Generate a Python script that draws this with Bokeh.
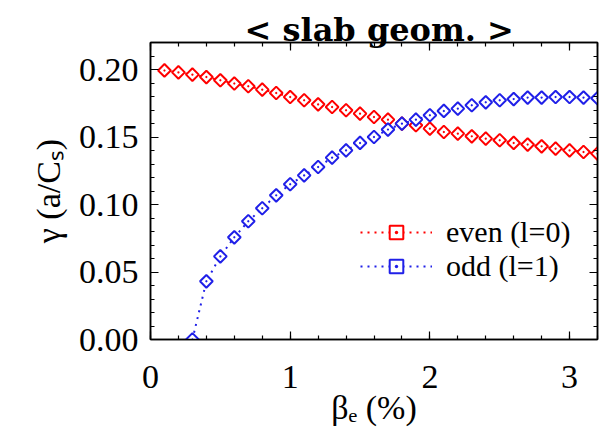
import numpy as np
from bokeh.plotting import figure
from bokeh.models import (LinearAxis, SingleIntervalTicker, NumeralTickFormatter,
                          Range1d, Legend, LegendItem, Title, ColumnDataSource)
from bokeh.embed import file_html
from bokeh.resources import INLINE

# ---- data ----
beta_even = [0.1, 0.2, 0.3, 0.4, 0.5, 0.6, 0.7, 0.8, 0.9, 1.0, 1.1, 1.2, 1.3, 1.4, 1.5, 1.6,
             1.7, 1.8, 1.9, 2.0, 2.1, 2.2, 2.3, 2.4, 2.5, 2.6, 2.7, 2.8, 2.9, 3.0, 3.1, 3.2]
gamma_even = [0.1993, 0.1979, 0.1962, 0.1944, 0.1920, 0.1896, 0.1876, 0.1851, 0.1826, 0.1796,
              0.1772, 0.1742, 0.1722, 0.1698, 0.1673, 0.1648, 0.1629, 0.1599, 0.1587, 0.1562,
              0.1537, 0.1525, 0.1505, 0.1488, 0.1476, 0.1456, 0.1444, 0.1431, 0.1414, 0.1401,
              0.1389, 0.1377]
beta_odd = [0.3, 0.4, 0.5, 0.6, 0.7, 0.8, 0.9, 1.0, 1.1, 1.2, 1.3, 1.4, 1.5, 1.6, 1.7, 1.8,
            1.9, 2.0, 2.1, 2.2, 2.3, 2.4, 2.5, 2.6, 2.7, 2.8, 2.9, 3.0, 3.1, 3.2]
gamma_odd = [0.0, 0.0431, 0.0616, 0.0757, 0.0876, 0.0972, 0.1068, 0.1150, 0.1216, 0.1278,
             0.1347, 0.1401, 0.1456, 0.1500, 0.1555, 0.1599, 0.1629, 0.1661, 0.1693, 0.1710,
             0.1735, 0.1757, 0.1772, 0.1781, 0.1792, 0.1792, 0.1796, 0.1796, 0.1792, 0.1787]
x_range = (0.0, 3.2)
y_range = (0.0, 0.22)
title_text = "< slab geom. >"
x_label = "β\u2091 (%)"
y_label = "γ (a/C\u209b)"
legend_labels = ["even (l=0)", "odd (l=1)"]

RED = "#ff0000"
BLUE = "#2020e8"
SERIF = "Liberation Serif"

p = figure(width=605, height=433, output_backend="svg", toolbar_location=None,
           x_range=Range1d(*x_range), y_range=Range1d(*y_range),
           min_border_left=150, min_border_right=8, min_border_top=42, min_border_bottom=94,
           x_axis_type=None, y_axis_type=None)
p.xgrid.visible = False
p.ygrid.visible = False
p.outline_line_color = "black"
p.outline_line_width = 1.5
p.background_fill_color = "white"
p.border_fill_color = "white"


def style_axis(ax, labels=True):
    ax.axis_line_color = "black"
    ax.axis_line_width = 1.5
    ax.major_tick_line_color = "black"
    ax.minor_tick_line_color = "black"
    ax.major_tick_line_width = 1.2
    ax.minor_tick_line_width = 1.2
    ax.major_tick_in = 8
    ax.major_tick_out = 0
    ax.minor_tick_in = 4
    ax.minor_tick_out = 0
    if labels:
        ax.major_label_text_font = SERIF
        ax.major_label_text_font_size = "34px"
        ax.major_label_text_color = "black"
        ax.axis_label_text_font = SERIF
        ax.axis_label_text_font_size = "34px"
        ax.axis_label_text_font_style = "normal"
        ax.axis_label_text_color = "black"
    else:
        ax.major_label_text_font_size = "0px"
        ax.major_label_standoff = 0


xb = LinearAxis(ticker=SingleIntervalTicker(interval=1, num_minor_ticks=5), axis_label=x_label)
style_axis(xb)
xb.major_label_standoff = 26
xb.axis_label_standoff = -2
p.add_layout(xb, "below")

xa = LinearAxis(ticker=SingleIntervalTicker(interval=1, num_minor_ticks=5))
style_axis(xa, labels=False)
p.add_layout(xa, "above")

yl = LinearAxis(ticker=SingleIntervalTicker(interval=0.05, num_minor_ticks=5),
                formatter=NumeralTickFormatter(format="0.00"), axis_label=y_label)
style_axis(yl)
yl.major_label_standoff = 12
yl.axis_label_standoff = 9
p.add_layout(yl, "left")

yr = LinearAxis(ticker=SingleIntervalTicker(interval=0.05, num_minor_ticks=5))
style_axis(yr, labels=False)
p.add_layout(yr, "right")

# ---- series ----
src_even = ColumnDataSource(dict(x=beta_even, y=gamma_even,
                                 ang=[np.pi / 4] * len(beta_even)))
src_odd = ColumnDataSource(dict(x=beta_odd, y=gamma_odd,
                                ang=[np.pi / 4] * len(beta_odd)))

l_even = p.line("x", "y", source=src_even, line_color=RED, line_width=2, line_dash="2 5")
s_even = p.scatter("x", "y", source=src_even, marker="square_dot", angle="ang", size=9,
                   line_color=RED, line_width=2, fill_color="white")
l_odd = p.line("x", "y", source=src_odd, line_color=BLUE, line_width=2, line_dash="2 5")
s_odd = p.scatter("x", "y", source=src_odd, marker="square_dot", angle="ang", size=9,
                  line_color=BLUE, line_width=2, fill_color="white")

legend = Legend(items=[LegendItem(label=legend_labels[0], renderers=[l_even, s_even], index=0),
                       LegendItem(label=legend_labels[1], renderers=[l_odd, s_odd], index=0)],
                location=(210, 56), border_line_color=None, background_fill_alpha=0,
                padding=0, margin=0, spacing=0, glyph_width=72, glyph_height=34,
                label_height=34, label_standoff=14,
                label_text_font=SERIF, label_text_font_size="30px",
                label_text_color="black")
p.add_layout(legend, "center")

title = Title(text=title_text, align="left", offset=94, standoff=-12,
              text_font="DejaVu Serif", text_font_style="bold", text_font_size="32px",
              text_color="black")
p.add_layout(title, "above")

open("out.html", "w").write(file_html(p, INLINE))
